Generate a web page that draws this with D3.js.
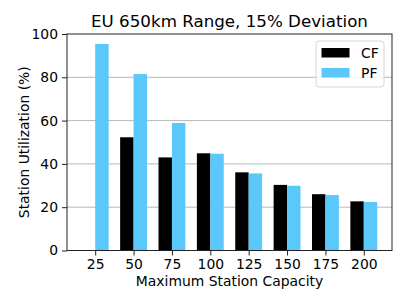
<!DOCTYPE html>
<html><head><meta charset="utf-8">
<script src="https://cdn.jsdelivr.net/npm/d3@7"></script>
<style>body{margin:0;background:#fff}svg{display:block}text{font-family:"DejaVu Sans",sans-serif;fill:#000}</style>
</head><body>
<script>
const categories = ["25","50","75","100","125","150","175","200"];
const cfValues = [0, 52.3, 43.0, 44.9, 36.1, 30.3, 26.0, 22.7];
const pfValues = [95.4, 81.5, 58.9, 44.7, 35.6, 29.9, 25.6, 22.4];
const yTicks = [0, 20, 40, 60, 80, 100];
const seriesNames = ["CF", "PF"];
const colors = {CF: "#000000", PF: "#5ac8fa"};

const W = 407, H = 305;
const m = {left: 67, right: 15, top: 34, bottom: 54.5};
const svg = d3.select("body").append("svg").attr("width", W).attr("height", H);
const pw = W - m.left - m.right, ph = H - m.top - m.bottom;
const g = svg.append("g").attr("transform", `translate(${m.left},${m.top})`);

const barW = 0.35;
const x = d3.scaleLinear().domain([0.265, 8.735]).range([0, pw]);
const y = d3.scaleLinear().domain([0, 100]).range([ph, 0]);

// grid
g.selectAll(".grid").data(yTicks.filter(t => t > 0 && t < 100)).enter().append("line")
  .attr("x1", 0).attr("x2", pw).attr("y1", d => y(d)).attr("y2", d => y(d))
  .attr("stroke", "#b8b8b8").attr("stroke-width", 1);

const idx = categories.map((c, i) => i + 1);
g.selectAll(".cf").data(cfValues).enter().append("rect")
  .attr("x", (d, i) => x(idx[i] - barW)).attr("width", x(barW) - x(0))
  .attr("y", d => y(d)).attr("height", d => ph - y(d)).attr("fill", colors.CF);
g.selectAll(".pf").data(pfValues).enter().append("rect")
  .attr("x", (d, i) => x(idx[i])).attr("width", x(barW) - x(0))
  .attr("y", d => y(d)).attr("height", d => ph - y(d)).attr("fill", colors.PF);

// frame
g.append("rect").attr("x", 0).attr("y", 0).attr("width", pw).attr("height", ph)
  .attr("fill", "none").attr("stroke", "#222").attr("stroke-width", 1);

const fs = 13.9;
const xAxis = d3.axisBottom(x).tickValues(idx).tickFormat((d, i) => categories[i]).tickSize(5).tickPadding(4);
const gx = g.append("g").attr("transform", `translate(0,${ph})`).call(xAxis);
const yAxis = d3.axisLeft(y).tickValues(yTicks).tickSize(5).tickPadding(4);
const gy = g.append("g").call(yAxis);
[gx, gy].forEach(a => {
  a.select(".domain").remove();
  a.selectAll("line").attr("stroke", "#222");
  a.selectAll("text").style("font-size", fs + "px").style("font-family", "DejaVu Sans");
});

svg.append("text").attr("x", m.left + pw / 2).attr("y", 27).attr("text-anchor", "middle")
  .style("font-size", "16.7px").text("EU 650km Range, 15% Deviation");
svg.append("text").attr("x", m.left + pw / 2).attr("y", 286).attr("text-anchor", "middle")
  .style("font-size", fs + "px").text("Maximum Station Capacity");
svg.append("text").attr("transform", `translate(29,${m.top + ph / 2}) rotate(-90)`).attr("text-anchor", "middle")
  .style("font-size", fs + "px").text("Station Utilization (%)");

// legend
const lg = svg.append("g").attr("transform", "translate(316,41)");
lg.append("rect").attr("width", 68).attr("height", 46).attr("rx", 3)
  .attr("fill", "#fff").attr("fill-opacity", 0.8).attr("stroke", "#d5d5d5");
seriesNames.forEach((s, i) => {
  lg.append("rect").attr("x", 5.5).attr("y", 7 + i * 20).attr("width", 28).attr("height", 9.5).attr("fill", colors[s]);
  lg.append("text").attr("x", 45).attr("y", 16.5 + i * 20).style("font-size", fs + "px").text(s);
});
</script>
</body></html>
